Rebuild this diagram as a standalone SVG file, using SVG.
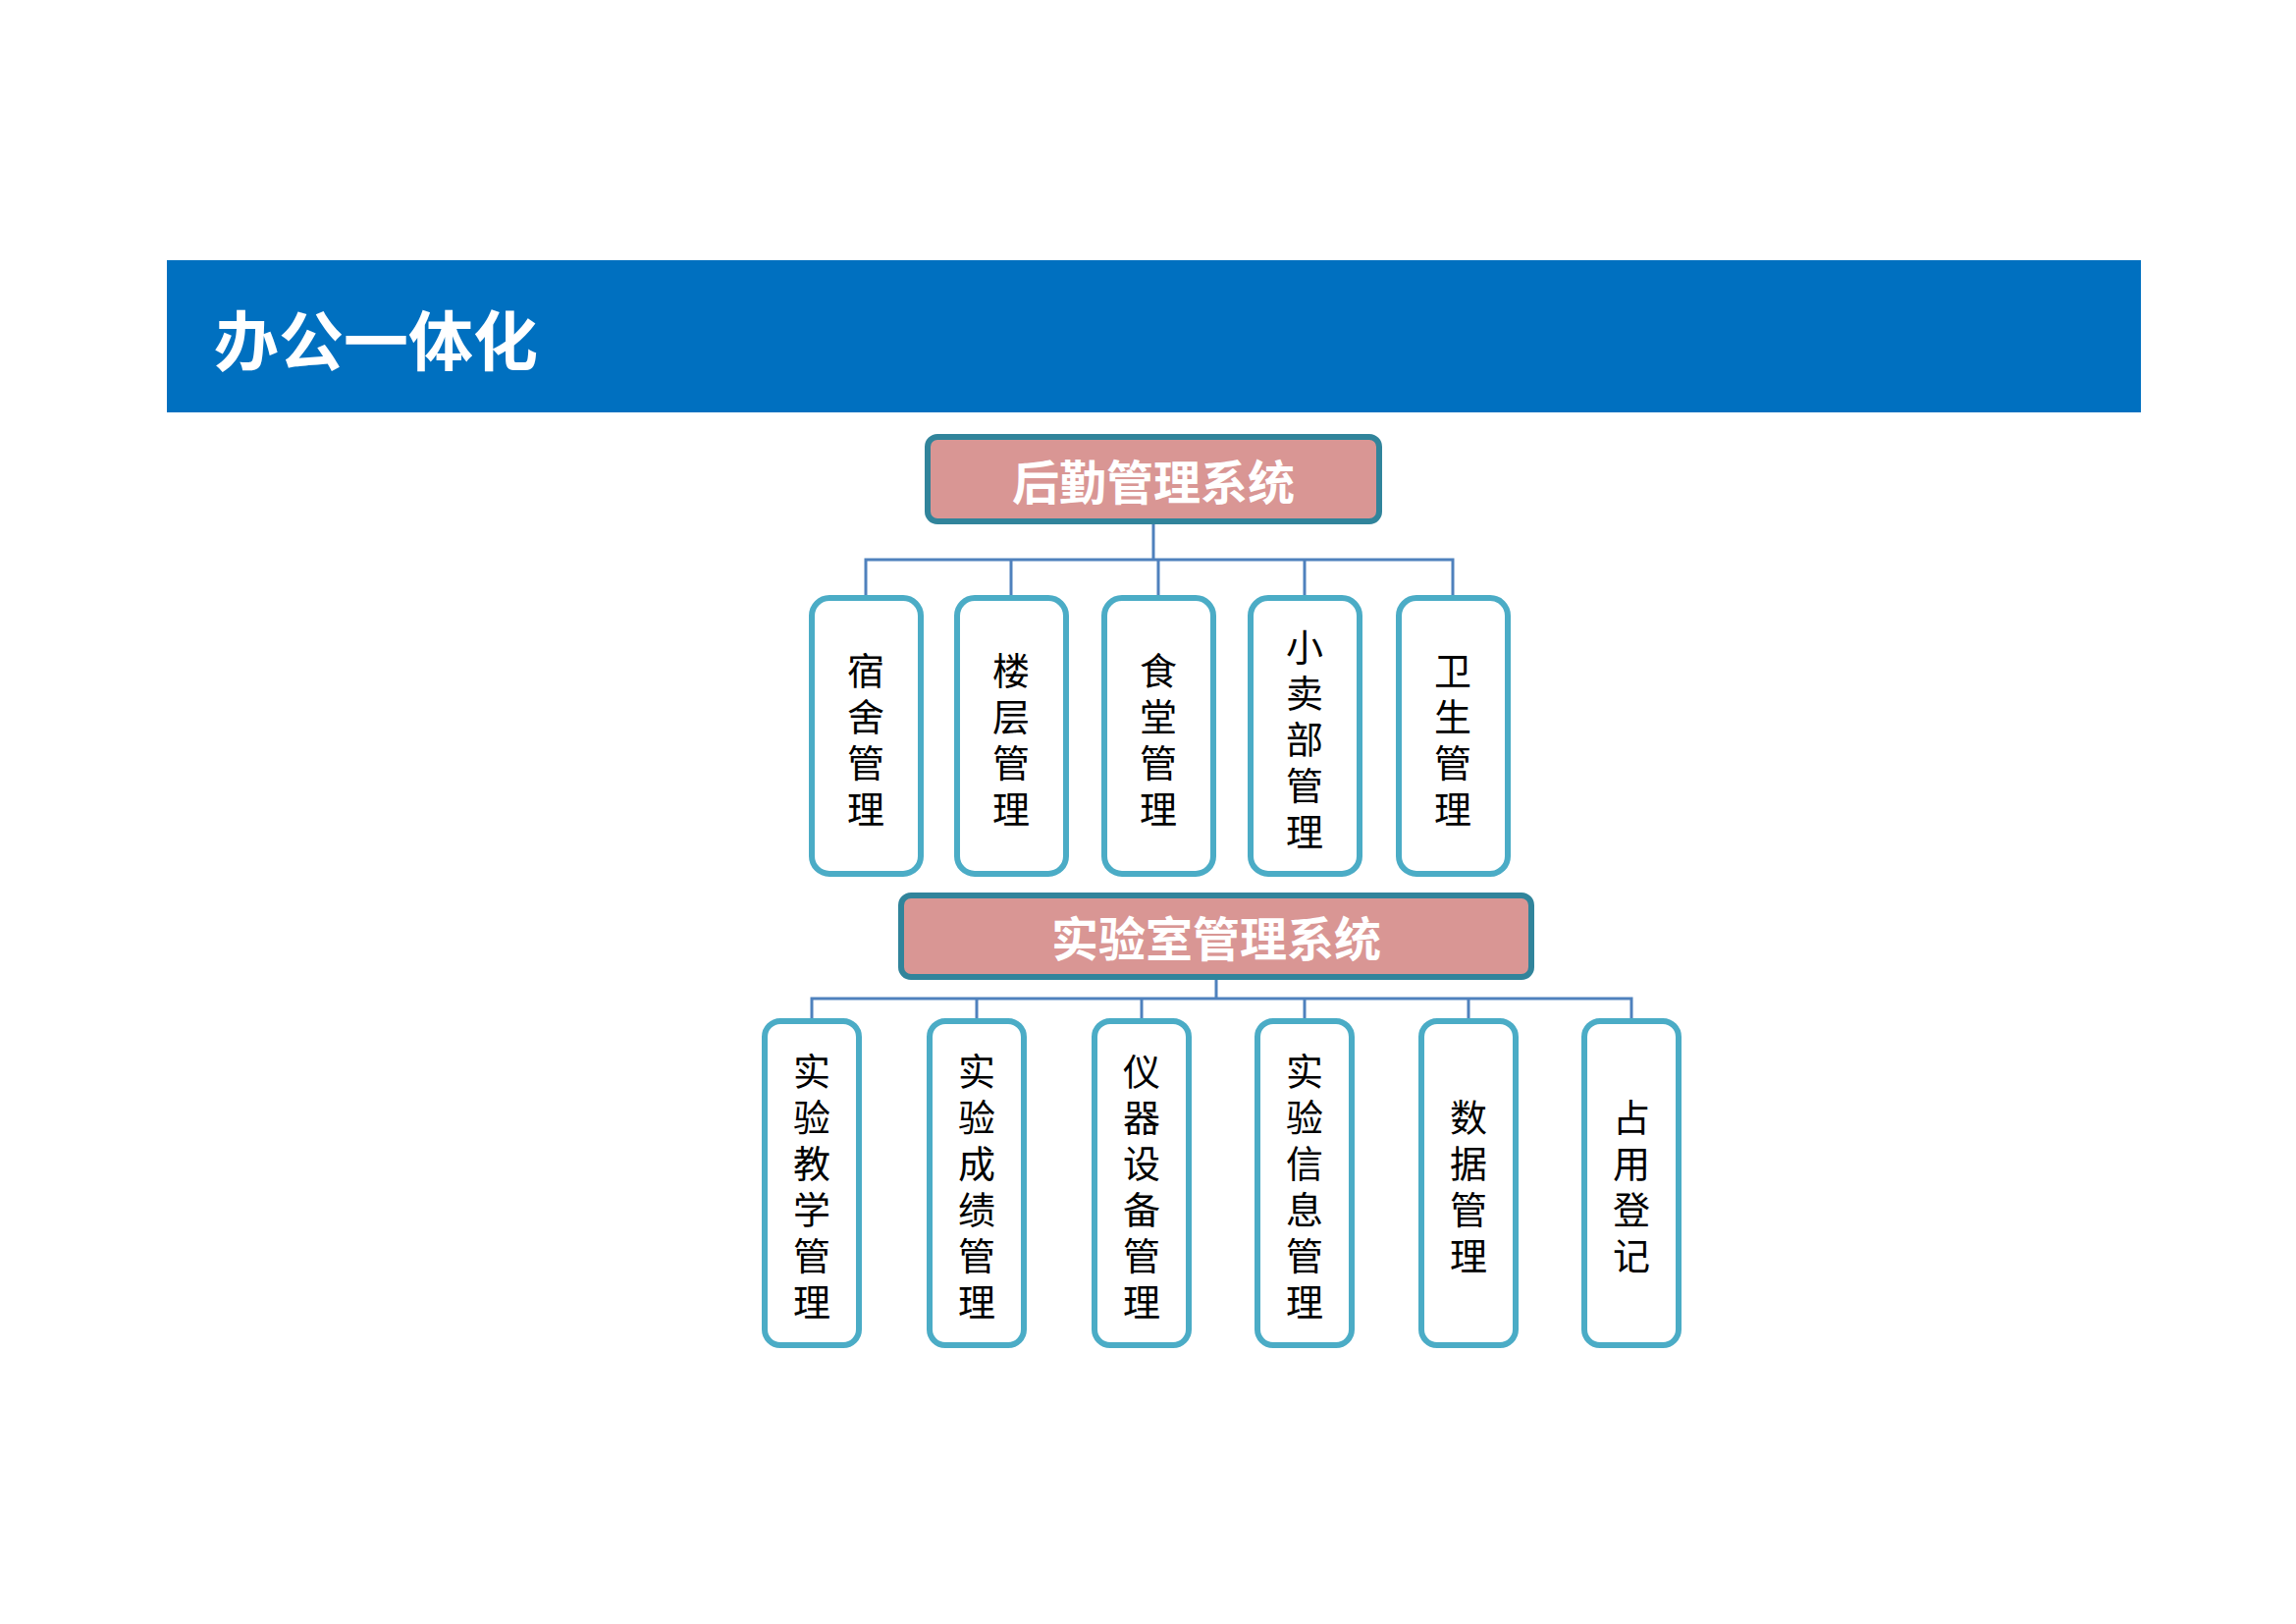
<svg xmlns="http://www.w3.org/2000/svg" width="2339" height="1654" viewBox="0 0 2339 1654">
<style>
.hd{fill:#D99694;stroke:#31849B;stroke-width:6}
.hdt{fill:#fff;font-family:"Noto Sans CJK SC",sans-serif;font-weight:bold;font-size:48px;text-anchor:middle;dominant-baseline:central}
.ch{fill:#fff;stroke:#4BACC6;stroke-width:6}
.cht{fill:#000;font-family:"Noto Sans CJK SC",sans-serif;font-size:38px;text-anchor:middle;dominant-baseline:central}
.ln{fill:none;stroke:#4F81BD;stroke-width:3}
</style>
<rect width="2339" height="1654" fill="#fff"/>
<g id="banner"><rect x="170" y="265" width="2011" height="155" fill="#0070C0"/>
<text x="218" y="343" fill="#fff" font-family="Noto Sans CJK SC,sans-serif" font-weight="bold" font-size="66" dominant-baseline="central">办公一体化</text></g>
<g id="connectors">
<path class="ln" d="M1175 531V570M882 609V570H1480V609M1030 570V609M1180 570V609M1329 570V609"/>
<path class="ln" d="M1239 995V1017M827 1040V1017H1662V1040M995 1017V1040M1163 1017V1040M1329 1017V1040M1496 1017V1040"/>
</g>
<g id="n-hq"><rect class="hd" x="945" y="445" width="460" height="86" rx="10"/><text class="hdt" x="1175" y="488">后勤管理系统</text></g>
<g id="n-lab"><rect class="hd" x="918" y="912" width="642" height="83" rx="10"/><text class="hdt" x="1239" y="953">实验室管理系统</text></g>
<g id="n1"><rect class="ch" x="827" y="609" width="111" height="281" rx="18"/><text class="cht"><tspan x="882" y="680">宿</tspan><tspan x="882" y="727">舍</tspan><tspan x="882" y="774">管</tspan><tspan x="882" y="821">理</tspan></text></g>
<g id="n2"><rect class="ch" x="975" y="609" width="111" height="281" rx="18"/><text class="cht"><tspan x="1030" y="680">楼</tspan><tspan x="1030" y="727">层</tspan><tspan x="1030" y="774">管</tspan><tspan x="1030" y="821">理</tspan></text></g>
<g id="n3"><rect class="ch" x="1125" y="609" width="111" height="281" rx="18"/><text class="cht"><tspan x="1180" y="680">食</tspan><tspan x="1180" y="727">堂</tspan><tspan x="1180" y="774">管</tspan><tspan x="1180" y="821">理</tspan></text></g>
<g id="n4"><rect class="ch" x="1274" y="609" width="111" height="281" rx="18"/><text class="cht"><tspan x="1329" y="656">小</tspan><tspan x="1329" y="703">卖</tspan><tspan x="1329" y="750">部</tspan><tspan x="1329" y="797">管</tspan><tspan x="1329" y="844">理</tspan></text></g>
<g id="n5"><rect class="ch" x="1425" y="609" width="111" height="281" rx="18"/><text class="cht"><tspan x="1480" y="680">卫</tspan><tspan x="1480" y="727">生</tspan><tspan x="1480" y="774">管</tspan><tspan x="1480" y="821">理</tspan></text></g>
<g id="m1"><rect class="ch" x="779" y="1040" width="96" height="330" rx="16"/><text class="cht"><tspan x="827" y="1088">实</tspan><tspan x="827" y="1135">验</tspan><tspan x="827" y="1182">教</tspan><tspan x="827" y="1229">学</tspan><tspan x="827" y="1276">管</tspan><tspan x="827" y="1323">理</tspan></text></g>
<g id="m2"><rect class="ch" x="947" y="1040" width="96" height="330" rx="16"/><text class="cht"><tspan x="995" y="1088">实</tspan><tspan x="995" y="1135">验</tspan><tspan x="995" y="1182">成</tspan><tspan x="995" y="1229">绩</tspan><tspan x="995" y="1276">管</tspan><tspan x="995" y="1323">理</tspan></text></g>
<g id="m3"><rect class="ch" x="1115" y="1040" width="96" height="330" rx="16"/><text class="cht"><tspan x="1163" y="1088">仪</tspan><tspan x="1163" y="1135">器</tspan><tspan x="1163" y="1182">设</tspan><tspan x="1163" y="1229">备</tspan><tspan x="1163" y="1276">管</tspan><tspan x="1163" y="1323">理</tspan></text></g>
<g id="m4"><rect class="ch" x="1281" y="1040" width="96" height="330" rx="16"/><text class="cht"><tspan x="1329" y="1088">实</tspan><tspan x="1329" y="1135">验</tspan><tspan x="1329" y="1182">信</tspan><tspan x="1329" y="1229">息</tspan><tspan x="1329" y="1276">管</tspan><tspan x="1329" y="1323">理</tspan></text></g>
<g id="m5"><rect class="ch" x="1448" y="1040" width="96" height="330" rx="16"/><text class="cht"><tspan x="1496" y="1135">数</tspan><tspan x="1496" y="1182">据</tspan><tspan x="1496" y="1229">管</tspan><tspan x="1496" y="1276">理</tspan></text></g>
<g id="m6"><rect class="ch" x="1614" y="1040" width="96" height="330" rx="16"/><text class="cht"><tspan x="1662" y="1135">占</tspan><tspan x="1662" y="1182">用</tspan><tspan x="1662" y="1229">登</tspan><tspan x="1662" y="1276">记</tspan></text></g>
</svg>
